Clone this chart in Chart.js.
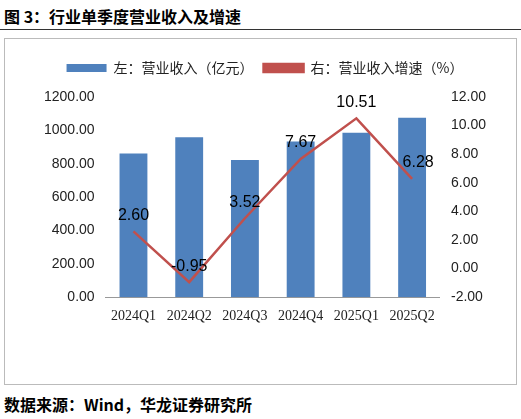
<!DOCTYPE html>
<html><head><meta charset="utf-8">
<script src="https://cdn.jsdelivr.net/npm/chart.js@4"></script>
<style>
body{margin:0;width:521px;height:419px;background:#fff;font-family:"Noto Sans CJK SC",sans-serif;position:relative;overflow:hidden}
#t{position:absolute;left:4px;top:4px;font-size:16px;font-weight:bold;color:#000}
#hl{position:absolute;left:0;top:29px;width:521px;border-top:1.5px solid #333}
#box{position:absolute;left:4px;top:38px;width:511px;height:345px;border:1px solid #bbb}
#s{position:absolute;left:4px;top:392px;font-size:16px;font-weight:bold;color:#000}
</style></head><body>
<div id="t">图 3：行业单季度营业收入及增速</div><div id="hl"></div>
<div id="box"><canvas id="c" width="511" height="300"></canvas></div>
<div id="s">数据来源：Wind，华龙证券研究所</div>
<script>
const categories=["2024Q1","2024Q2","2024Q3","2024Q4","2025Q1","2025Q2"];
const revenue=[862,958,822,934,986,1075];
const growth=[2.60,-0.95,3.52,7.67,10.51,6.28];
const labelPlugin={id:'lbl',afterDatasetsDraw(ch){const ctx=ch.ctx;const m=ch.getDatasetMeta(1);ctx.save();ctx.font='16px "Liberation Sans", Arial';ctx.fillStyle='#000';ctx.textAlign='center';ctx.textBaseline='bottom';
m.data.forEach((p,i)=>{let dx=0;if(i==5)dx=6;ctx.fillText(growth[i].toFixed(2),p.x+dx,p.y-8);});ctx.restore();}};
const legendSpace={id:'ls',beforeInit(ch){const o=ch.legend.fit;ch.legend.fit=function(){o.call(this);this.height+=12;};}};
new Chart(document.getElementById('c'),{data:{labels:categories,datasets:[
{type:'bar',label:'左：营业收入（亿元）',data:revenue,backgroundColor:'#4F81BD',yAxisID:'y',barPercentage:0.5,categoryPercentage:1,order:2},
{type:'line',label:'右：营业收入增速（%）',data:growth,borderColor:'#C0504D',backgroundColor:'#C0504D',borderWidth:2.5,pointRadius:0,yAxisID:'y1',order:1}]},
options:{responsive:false,animation:false,layout:{padding:{left:36,right:27,top:12,bottom:11}},
plugins:{legend:{labels:{sort:(a,b)=>a.datasetIndex-b.datasetIndex,font:{size:14,family:'"Noto Sans CJK SC"'},color:'#222',boxWidth:40,boxHeight:8,useBorderRadius:false}},tooltip:{enabled:false}},
scales:{x:{grid:{display:false},border:{color:'#999'},ticks:{font:{size:14,family:'"Liberation Serif"'},color:'#222'}},
y:{position:'left',min:0,max:1200,ticks:{stepSize:200,callback:v=>v.toFixed(2),font:{size:14,family:'"Liberation Sans"'},color:'#222'},grid:{display:false},border:{display:false}},
y1:{position:'right',min:-2,max:12,ticks:{stepSize:2,callback:v=>v.toFixed(2),font:{size:14,family:'"Liberation Sans"'},color:'#222'},grid:{display:false},border:{display:false}}}},
plugins:[labelPlugin,legendSpace]});
</script></body></html>
